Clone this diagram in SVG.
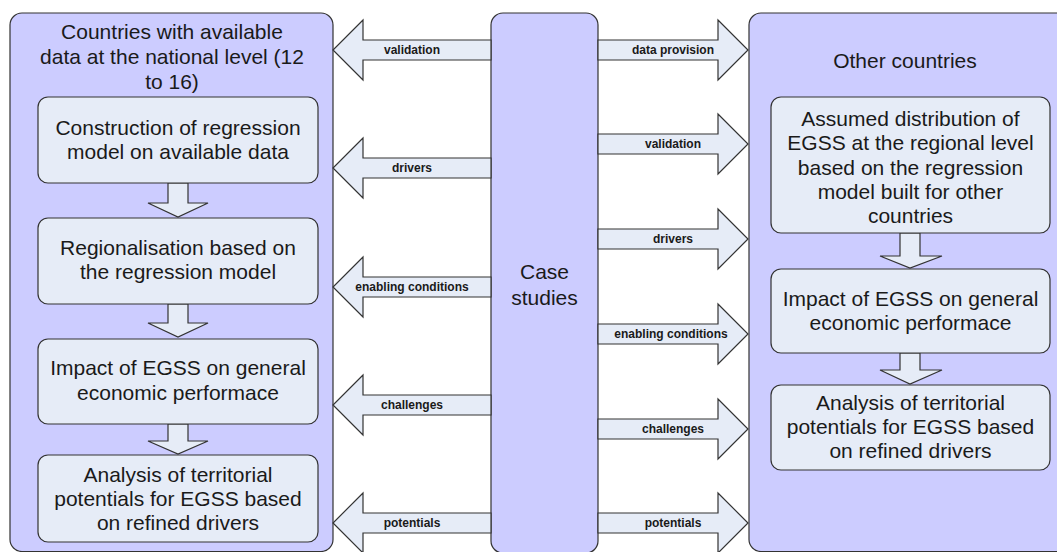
<svg xmlns="http://www.w3.org/2000/svg" width="1057" height="552" viewBox="0 0 1057 552">
<style>
.cont{fill:#CCCCFF;stroke:#333333;stroke-width:1.2}
.box{fill:#E6ECF7;stroke:#333333;stroke-width:1.2}
.arr{fill:#E6ECF7;stroke:#333333;stroke-width:1.2;stroke-linejoin:miter}
.t{font-family:"Liberation Sans",Arial,sans-serif;font-size:21px;fill:#1a1a1a;text-anchor:middle}
.l{font-family:"Liberation Sans",Arial,sans-serif;font-size:12px;font-weight:bold;fill:#1a1a1a;text-anchor:middle}
</style>
<rect width="1057" height="552" fill="#ffffff"/>
<g id="left-container">
<rect class="cont" x="10" y="13" width="323" height="538.5" rx="12"/>
<text class="t" x="172" y="39">Countries with available</text>
<text class="t" x="172" y="64">data at the national level (12</text>
<text class="t" x="172" y="89">to 16)</text>
</g>
<g id="right-container">
<rect class="cont" x="749" y="13" width="330" height="538.5" rx="12"/>
<text class="t" x="905" y="68">Other countries</text>
</g>
<g id="case-studies">
<rect class="cont" x="491" y="13" width="107" height="540" rx="12"/>
<text class="t" x="544.5" y="279">Case</text>
<text class="t" x="544.5" y="305">studies</text>
</g>
<g id="connectors">
<polygon class="arr" points="168,183 188,183 188,203 208,203 178,217 148,203 168,203"/>
<polygon class="arr" points="168,304 188,304 188,323 208,323 178,337 148,323 168,323"/>
<polygon class="arr" points="168,424 188,424 188,441 208,441 178,454 148,441 168,441"/>
<polygon class="arr" points="900,233 920,233 920,256 942,256 910,268 880,256 900,256"/>
<polygon class="arr" points="900,353 920,353 920,370 942,370 910,384 880,370 900,370"/>
<g id="left-arrows">
<polygon class="arr" points="491,40 363,40 363,20 333,50 363,80 363,60 491,60"/>
<polygon class="arr" points="491,158 363,158 363,138 333,168 363,198 363,178 491,178"/>
<polygon class="arr" points="491,277 363,277 363,257 333,287 363,317 363,297 491,297"/>
<polygon class="arr" points="491,395 363,395 363,375 333,405 363,435 363,415 491,415"/>
<polygon class="arr" points="491,513 363,513 363,493 333,523 363,553 363,533 491,533"/>
<text class="l" x="412" y="54">validation</text>
<text class="l" x="412" y="172">drivers</text>
<text class="l" x="412" y="291">enabling conditions</text>
<text class="l" x="412" y="409">challenges</text>
<text class="l" x="412" y="527">potentials</text>
</g>
<g id="right-arrows">
<polygon class="arr" points="598,40 718,40 718,20 748,50 718,80 718,60 598,60"/>
<polygon class="arr" points="598,134 718,134 718,114 748,144 718,174 718,154 598,154"/>
<polygon class="arr" points="598,229 718,229 718,209 748,239 718,269 718,249 598,249"/>
<polygon class="arr" points="598,324 718,324 718,304 748,334 718,364 718,344 598,344"/>
<polygon class="arr" points="598,419 718,419 718,399 748,429 718,459 718,439 598,439"/>
<polygon class="arr" points="598,513 718,513 718,493 748,523 718,553 718,533 598,533"/>
<text class="l" x="673" y="54">data provision</text>
<text class="l" x="673" y="148">validation</text>
<text class="l" x="673" y="243">drivers</text>
<text class="l" x="671" y="338">enabling conditions</text>
<text class="l" x="673" y="433">challenges</text>
<text class="l" x="673" y="527">potentials</text>
</g>
</g>
<g id="construction">
<rect class="box" x="38" y="97" width="280" height="86" rx="10"/>
<text class="t" x="178" y="135">Construction of regression</text>
<text class="t" x="178" y="159">model on available data</text>
</g>
<g id="regionalisation">
<rect class="box" x="38" y="218" width="280" height="86" rx="10"/>
<text class="t" x="178" y="255">Regionalisation based on</text>
<text class="t" x="178" y="279">the regression model</text>
</g>
<g id="impact-left">
<rect class="box" x="38" y="339" width="280" height="85" rx="10"/>
<text class="t" x="178" y="375">Impact of EGSS on general</text>
<text class="t" x="178" y="400">economic performace</text>
</g>
<g id="analysis-left">
<rect class="box" x="38" y="455" width="280" height="87" rx="10"/>
<text class="t" x="178" y="482">Analysis of territorial</text>
<text class="t" x="178" y="506">potentials for EGSS based</text>
<text class="t" x="178" y="530">on refined drivers</text>
</g>
<g id="assumed">
<rect class="box" x="771" y="97" width="279" height="136" rx="10"/>
<text class="t" x="910.5" y="126">Assumed distribution of</text>
<text class="t" x="910.5" y="150">EGSS at the regional level</text>
<text class="t" x="910.5" y="175">based on the regression</text>
<text class="t" x="910.5" y="199">model built for other</text>
<text class="t" x="910.5" y="223">countries</text>
</g>
<g id="impact-right">
<rect class="box" x="771" y="269" width="279" height="84" rx="10"/>
<text class="t" x="910.5" y="306">Impact of EGSS on general</text>
<text class="t" x="910.5" y="330">economic performace</text>
</g>
<g id="analysis-right">
<rect class="box" x="771" y="385" width="279" height="85" rx="10"/>
<text class="t" x="910.5" y="410">Analysis of territorial</text>
<text class="t" x="910.5" y="434">potentials for EGSS based</text>
<text class="t" x="910.5" y="458">on refined drivers</text>
</g>
</svg>
